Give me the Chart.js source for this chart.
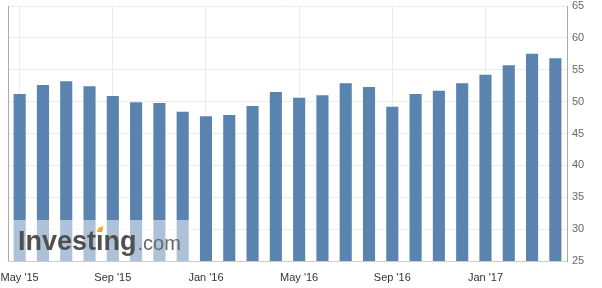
<!DOCTYPE html>
<html>
<head>
<meta charset="utf-8">
<script src="https://cdn.jsdelivr.net/npm/chart.js@4.4.0/dist/chart.umd.min.js"></script>
<style>
  html, body { margin: 0; padding: 0; background: #fff; }
  canvas { display: block; }
</style>
</head>
<body>
<canvas id="myChart" width="602" height="288"></canvas>
<script>
// months shown on the x axis (only every 4th label is printed)
const months = ["May '15", "Jun '15", "Jul '15", "Aug '15", "Sep '15", "Oct '15", "Nov '15", "Dec '15",
	"Jan '16", "Feb '16", "Mar '16", "Apr '16", "May '16", "Jun '16", "Jul '16", "Aug '16",
	"Sep '16", "Oct '16", "Nov '16", "Dec '16", "Jan '17", "Feb '17", "Mar '17", "Apr '17"];
const values = [51.2, 52.6, 53.2, 52.4, 50.9, 49.9, 49.8, 48.4, 47.7, 47.9, 49.3, 51.5,
	50.6, 51.0, 52.9, 52.3, 49.2, 51.2, 51.7, 52.9, 54.2, 55.7, 57.5, 56.8];
const yMin = 25;
const yMax = 65;
const yStep = 5;

const fontFamily = 'Arial, "Liberation Sans", sans-serif';

// left frame line + investing.com watermark
const watermark = {
	id: 'watermark',
	afterDatasetsDraw(chart) {
		const ctx = chart.ctx;
		const area = chart.chartArea;
		ctx.save();
		ctx.fillStyle = 'rgba(255,255,255,0.5)';
		ctx.fillRect(area.left, 220, 190 - area.left, area.bottom - 220);

		ctx.textBaseline = 'alphabetic';
		ctx.textAlign = 'left';
		ctx.font = 'bold 27px ' + fontFamily;
		ctx.fillStyle = '#505050';
		const x0 = 18;
		const w = ctx.measureText('Investing').width;
		const before = ctx.measureText('Invest').width;
		const iw = ctx.measureText('\u0131').width;
		// second i drawn without its dot, the dot is orange
		ctx.fillText('Invest', x0, 250);
		ctx.fillText('\u0131ng', x0 + before, 250);
		const cx = x0 + before + iw / 2;
		ctx.fillStyle = '#f5a623';
		ctx.beginPath();
		ctx.moveTo(cx - 3, 232);
		ctx.lineTo(cx + 2.5, 232);
		ctx.lineTo(cx + 3.5, 226);
		ctx.lineTo(cx - 1.5, 228);
		ctx.closePath();
		ctx.fill();

		ctx.font = '20px ' + fontFamily;
		ctx.fillStyle = '#6a6a6a';
		ctx.fillText('.com', x0 + w + 1, 250);

		ctx.strokeStyle = '#aaaaaa';
		ctx.lineWidth = 1;
		ctx.beginPath();
		ctx.moveTo(area.left + 0.5, area.top);
		ctx.lineTo(area.left + 0.5, area.bottom);
		ctx.stroke();
		ctx.restore();
	}
};

const data = {
	labels: months,
	datasets: [{
		data: values,
		backgroundColor: '#5b83b0',
		barPercentage: 0.52,
		categoryPercentage: 1
	}]
};

const config = {
	type: 'bar',
	data: data,
	plugins: [watermark],
	options: {
		responsive: false,
		animation: false,
		layout: { padding: { left: 8, top: 6, right: 0, bottom: 0 } },
		plugins: {
			legend: { display: false },
			tooltip: { enabled: false }
		},
		scales: {
			x: {
				grid: {
					offset: false,
					drawTicks: false,
					color: (c) => (c.index % 4 === 0 ? '#ececec' : 'rgba(0,0,0,0)')
				},
				border: { color: '#cccccc' },
				ticks: {
					autoSkip: false,
					maxRotation: 0,
					padding: 10,
					color: '#333333',
					font: { size: 11, family: fontFamily },
					callback: function (v, i) {
						return i % 4 === 0 ? this.getLabelForValue(v) : '';
					}
				},
				afterFit: (s) => { s.height = 27; s.paddingLeft = 0; s.paddingRight = 0; }
			},
			y: {
				position: 'right',
				min: yMin,
				max: yMax,
				grid: { drawTicks: false, color: '#ececec' },
				border: { color: '#aaaaaa' },
				ticks: {
					stepSize: yStep,
					padding: 5,
					color: '#666666',
					font: { size: 11, family: fontFamily }
				},
				afterFit: (s) => { s.width = 35; s.paddingTop = 0; s.paddingBottom = 0; }
			}
		}
	}
};

const myChart = new Chart(document.getElementById('myChart'), config);
</script>
</body>
</html>
